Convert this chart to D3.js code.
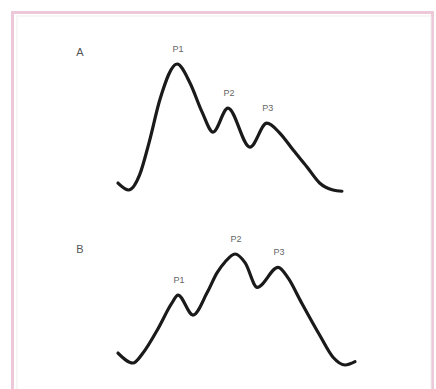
<!DOCTYPE html>
<html>
<head>
<meta charset="utf-8">
<script src="https://cdn.jsdelivr.net/npm/d3@7"></script>
<style>
  body { margin: 0; background: #fff; }
  svg { display: block; }
</style>
</head>
<body>
<div id="chart"></div>
<script>
/* Two chromatogram-like traces, panels A and B */

// panel A trace (time, intensity)
const traceA = [
  [0, 5.5], [4.5, 0], [9, 12], [13, 38], [17.5, 72], [24.6, 100], [30, 85],
  [35, 62], [39.6, 46], [45.8, 65], [55, 34], [62, 53],
  [67.5, 45], [73, 31.7], [78.75, 18.3], [84, 5.6], [89.6, 0], [93.3, -1]
];
const peaksA = [
  { name: "P1", x: 24.6, y: 100 },
  { name: "P2", x: 45.8, y: 65 },
  { name: "P3", x: 62, y: 53 }
];

// panel B trace
const traceB = [
  [0, 10.8], [6.25, 1.8], [10.4, 10.8], [16.5, 32], [22.5, 55.9],
  [25, 63], [31.25, 45], [37.1, 65], [41.25, 83], [44.6, 92.8], [48.75, 100],
  [53, 92], [58, 70], [66.7, 88], [71, 78], [76, 58], [84, 27], [89.6, 7],
  [94.6, 0], [98.75, 3]
];
const peaksB = [
  { name: "P1", x: 25, y: 63 },
  { name: "P2", x: 48.75, y: 100 },
  { name: "P3", x: 66.7, y: 88 }
];

const panelNames = ["A", "B"];

const width = 436, height = 389;

const svg = d3.select("#chart")
  .append("svg")
  .attr("width", width)
  .attr("height", height);

// outer pink frame, open at the bottom
svg.append("rect")
  .attr("x", 12.5).attr("y", 12.5)
  .attr("width", 420).attr("height", 390)
  .attr("fill", "none")
  .attr("stroke", "#ecc8d8")
  .attr("stroke-width", 3);

svg.append("rect")
  .attr("x", 17).attr("y", 16)
  .attr("width", 414).attr("height", 380)
  .attr("fill", "none")
  .attr("stroke", "#eeeeee")
  .attr("stroke-width", 1);

const x = d3.scaleLinear().domain([0, 100]).range([118, 358]);

const panels = [
  { name: panelNames[0], trace: traceA, peaks: peaksA, y: d3.scaleLinear().domain([0, 100]).range([190, 64]), labelY: 56 },
  { name: panelNames[1], trace: traceB, peaks: peaksB, y: d3.scaleLinear().domain([0, 100]).range([365, 254]), labelY: 253 }
];

panels.forEach(p => {
  const line = d3.line()
    .x(d => x(d[0]))
    .y(d => p.y(d[1]))
    .curve(d3.curveMonotoneX);

  svg.append("path")
    .datum(p.trace)
    .attr("d", line)
    .attr("fill", "none")
    .attr("stroke", "#1a1a1a")
    .attr("stroke-width", 3.2)
    .attr("stroke-linecap", "round")
    .attr("stroke-linejoin", "round");

  svg.append("text")
    .attr("x", 80)
    .attr("y", p.labelY)
    .attr("text-anchor", "middle")
    .attr("font-family", "Liberation Sans, Arial, sans-serif")
    .attr("font-size", 11)
    .attr("fill", "#555")
    .text(p.name);

  svg.selectAll(null)
    .data(p.peaks)
    .join("text")
    .attr("x", d => x(d.x) + 1)
    .attr("y", d => p.y(d.y) - 12)
    .attr("text-anchor", "middle")
    .attr("font-family", "Liberation Sans, Arial, sans-serif")
    .attr("font-size", 9)
    .attr("fill", "#666")
    .text(d => d.name);
});
</script>
</body>
</html>
